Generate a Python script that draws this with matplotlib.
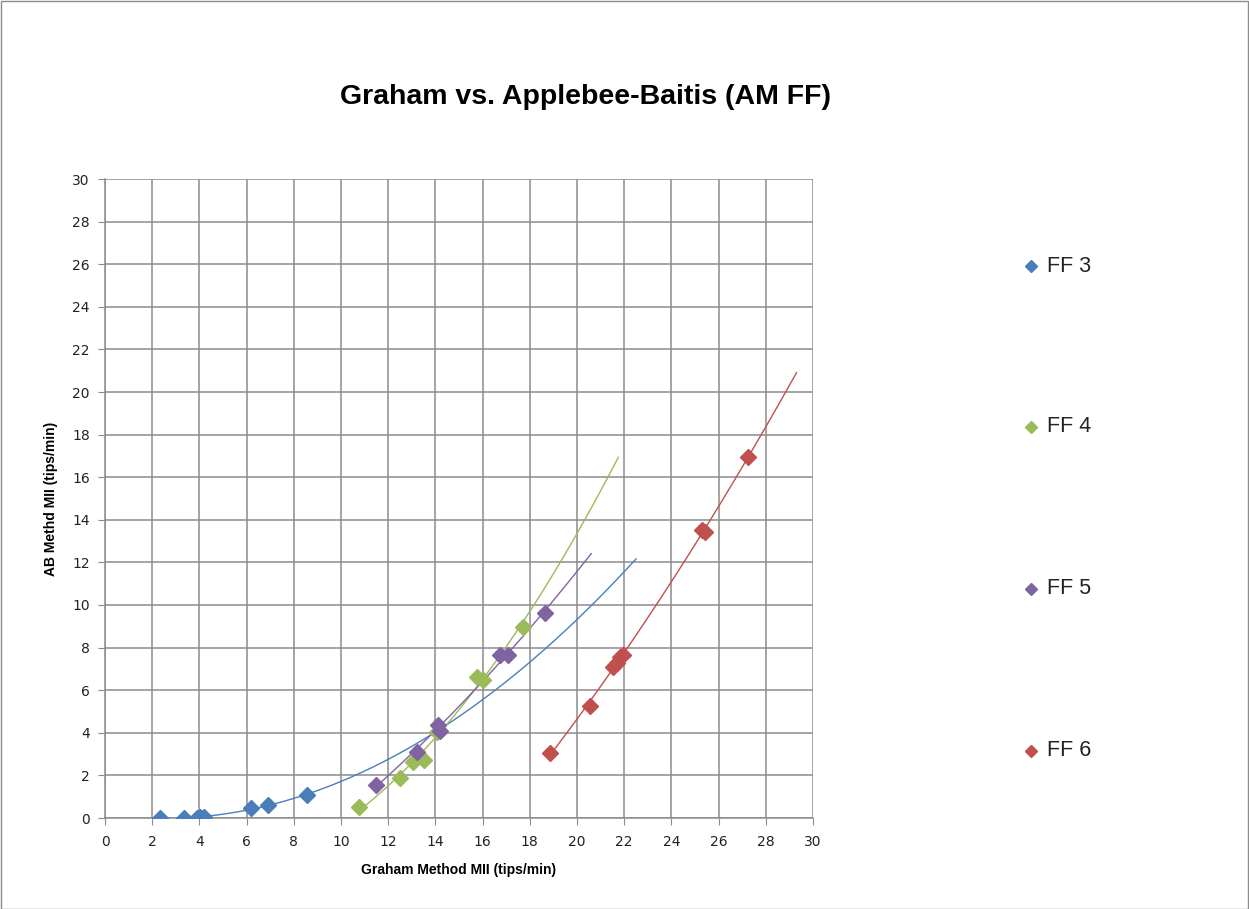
import numpy as np
import matplotlib
matplotlib.use("Agg")
import matplotlib.pyplot as plt
from matplotlib.patches import Rectangle

# ---- data ----
ff3_x = [2.33, 3.35, 3.89, 4.03, 4.20, 6.20, 6.92, 8.55]
ff3_y = [0.00, 0.00, 0.02, 0.05, 0.05, 0.45, 0.60, 1.10]

ff4_x = [10.77, 12.50, 13.06, 13.53, 14.05, 15.75, 16.00, 17.70]
ff4_y = [0.53, 1.86, 2.64, 2.72, 4.05, 6.63, 6.50, 8.98]

ff5_x = [11.47, 13.20, 14.12, 14.20, 16.74, 17.09, 18.64]
ff5_y = [1.55, 3.11, 4.37, 4.10, 7.65, 7.65, 9.64]

ff6_x = [18.86, 20.55, 21.54, 21.68, 21.82, 21.96, 25.28, 25.42, 27.26]
ff6_y = [3.04, 5.26, 7.10, 7.26, 7.57, 7.65, 13.52, 13.44, 16.93]

series_names = ["FF 3", "FF 4", "FF 5", "FF 6"]
trend_end = [22.5, 21.75, 20.6, 29.3]   # forward forecast end of trend lines
colors = ["#4A7EBB", "#9BBB59", "#8064A2", "#C0504D"]

x_ticks = list(range(0, 31, 2))
y_ticks = list(range(0, 31, 2))

# ---- figure ----
W, H = 1249, 909
fig = plt.figure(figsize=(W / 100, H / 100), dpi=100)
fig.patch.set_facecolor("white")
fig.add_artist(Rectangle((0.5 / W, 0.5 / H), 1 - 1.5 / W, 1 - 1.5 / H,
                         transform=fig.transFigure, fill=False,
                         edgecolor="#8c8c8c", linewidth=1))

left, right, top, bottom = 105, 813, 179, 818
ax = fig.add_axes([left / W, 1 - bottom / H, (right - left) / W, (bottom - top) / H])

xs = [ff3_x, ff4_x, ff5_x, ff6_x]
ys = [ff3_y, ff4_y, ff5_y, ff6_y]

handles = []
for x, y, c, name, xe in zip(xs, ys, colors, series_names, trend_end):
    coef = np.polyfit(x, y, 2)
    xx = np.linspace(min(x), xe, 200)
    yy = np.polyval(coef, xx)
    ax.plot(xx, yy, color=c, linewidth=1.0, zorder=2)
    h, = ax.plot(x, y, linestyle="none", marker="D", markersize=8.5,
                 color=c, markeredgecolor=c, zorder=3, label=name)
    handles.append(h)

ax.set_xlim(0, 30)
ax.set_ylim(0, 30)
ax.set_xticks(x_ticks)
ax.set_yticks(y_ticks)
ax.grid(True, color="#8c8c8c", linewidth=1.1)
ax.set_axisbelow(True)
for s in ["top", "right"]:
    ax.spines[s].set_visible(False)
for s in ["left", "bottom"]:
    ax.spines[s].set_color("#8c8c8c")
    ax.spines[s].set_linewidth(1.1)
ax.tick_params(axis="both", direction="out", length=5, color="#8c8c8c",
               labelsize=10, labelcolor="#222222")
ax.tick_params(axis="x", pad=7)
ax.tick_params(axis="y", pad=6)
for lab in ax.get_xticklabels() + ax.get_yticklabels():
    lab.set_family("DejaVu Sans")

ax.set_xlabel("Graham Method MII (tips/min)", fontsize=10, fontweight="bold",
              family="Liberation Sans", labelpad=10)
ax.set_ylabel("AB Methd MII (tips/min)", fontsize=10, fontweight="bold",
              family="Liberation Sans", labelpad=10)

fig.text(585 / W, 1 - 97 / H, "Graham vs. Applebee-Baitis (AM FF)",
         ha="center", va="center", fontsize=20.5, fontweight="bold",
         family="Liberation Sans")

# legend (spread vertically as in the reference)
for h, name, c, yp in zip(handles, series_names, colors, [266, 427, 589, 751]):
    fig.add_artist(plt.Line2D([1031 / W], [1 - yp / H], marker="D", markersize=6.5,
                              color=c, transform=fig.transFigure, linestyle="none"))
    fig.text(1047 / W, 1 - yp / H, name, ha="left", va="center", fontsize=15.5,
             family="Liberation Sans", color="#222222")

fig.savefig("out.png", dpi=100, facecolor="white")
